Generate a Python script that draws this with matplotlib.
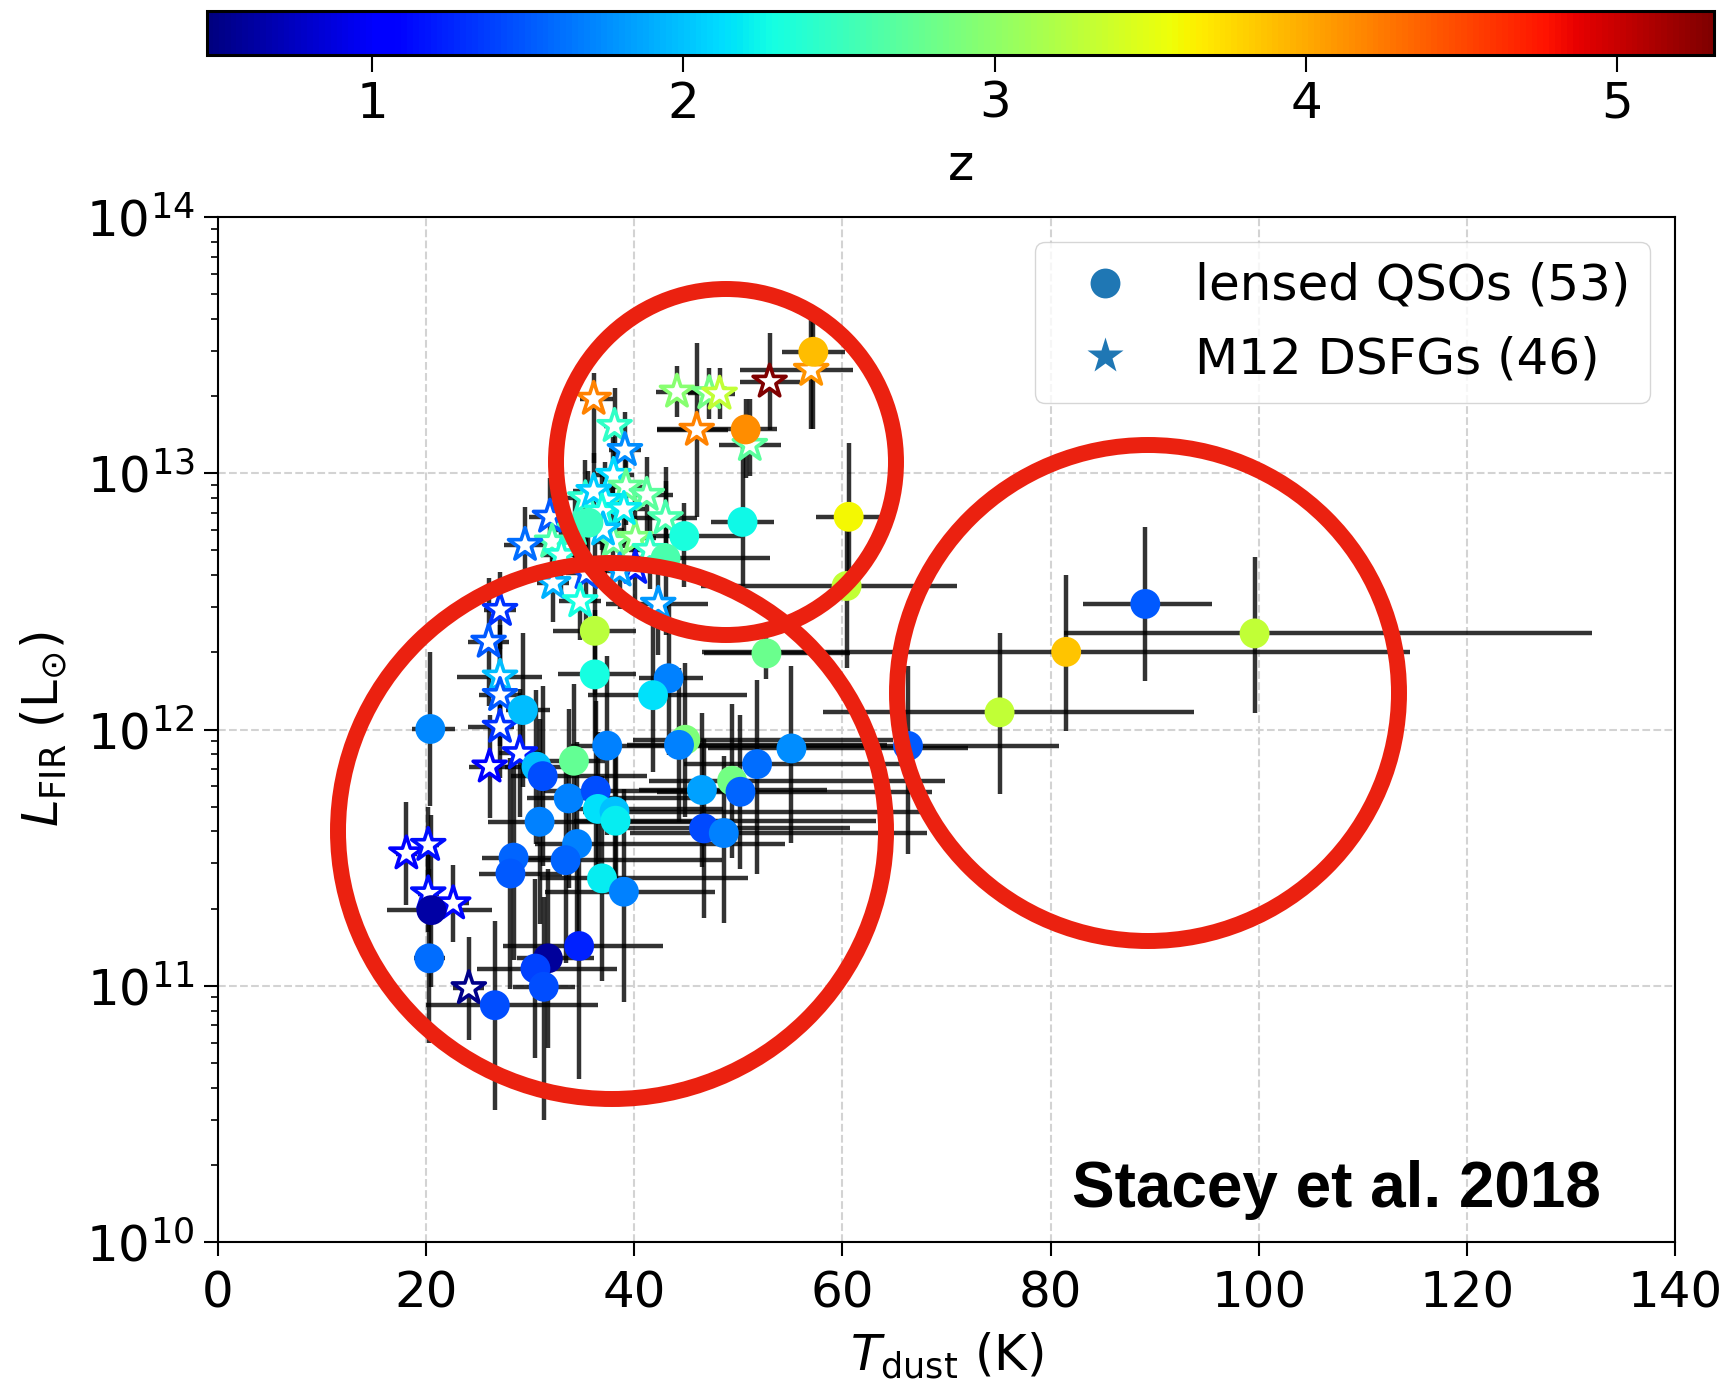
import numpy as np
import matplotlib
matplotlib.use('Agg')
import matplotlib.pyplot as plt
from matplotlib.colors import Normalize
from matplotlib.cm import ScalarMappable
from matplotlib.lines import Line2D
from matplotlib.patches import Ellipse

# lensed QSOs: T_dust [K], log L_FIR, z, T errors (lo, hi), log L errors (lo, hi) [dex]
qso_T = [89.1, 99.6, 81.5, 75.1, 66.3, 52.7, 60.4, 60.6, 55.1, 51.8,
         49.4, 50.2, 46.5, 46.7, 48.6, 36.2, 36.2, 43.3, 41.8, 20.4,
         29.3, 37.4, 34.2, 44.9, 44.3, 30.6, 31.2, 33.7, 36.3, 36.5,
         38.1, 38.2, 30.9, 34.5, 33.4, 28.4, 28.1, 36.9, 39.0, 20.5,
         20.3, 26.6, 31.7, 30.5, 31.3, 34.7, 57.2, 50.7, 50.4, 44.8,
         35.6, 43.0]
qso_logL = [12.49, 12.375, 12.303, 12.067, 11.936, 12.297, 12.56, 12.83, 11.926, 11.865,
            11.80, 11.757, 11.764, 11.614, 11.596, 12.385, 12.215, 12.20, 12.134, 12.002,
            12.076, 11.937, 11.878, 11.96, 11.94, 11.855, 11.818, 11.731, 11.761, 11.69,
            11.68, 11.644, 11.64, 11.553, 11.49, 11.50, 11.438, 11.419, 11.367, 11.295,
            11.107, 10.924, 11.107, 11.067, 10.996, 11.155, 13.474, 13.171, 12.81, 12.755,
            12.807, 12.668]
qso_z = [1.50, 3.30, 3.86, 3.30, 1.50, 2.78, 3.30, 3.60, 1.74, 1.60,
         2.85, 1.56, 1.85, 1.42, 1.68, 3.25, 2.30, 1.68, 2.15, 1.72,
         1.98, 1.68, 2.75, 2.90, 1.68, 1.98, 1.44, 1.68, 1.44, 2.15,
         2.00, 2.20, 1.68, 1.68, 1.56, 1.56, 1.50, 2.20, 1.68, 0.64,
         1.60, 1.44, 0.60, 1.38, 1.44, 1.23, 3.90, 4.15, 2.25, 2.32,
         2.50, 2.60]
qso_Tlo = [6.0, 18.3, 35.0, 17.0, 20.0, 6.0, 14.0, 3.1, 8.0, 7.0,
           8.0, 8.0, 6.0, 8.0, 9.0, 4.0, 3.5, 2.8, 6.2, 1.8,
           1.6, 3.5, 3.0, 5.0, 5.0, 3.0, 3.0, 4.0, 5.0, 3.0,
           3.0, 4.0, 5.0, 4.0, 5.0, 3.0, 3.0, 6.0, 7.6, 4.3,
           1.5, 6.6, 3.0, 5.6, 3.0, 7.3, 3.0, 8.5, 3.0, 6.2,
           3.0, 7.0]
qso_Thi = [6.4, 32.4, 33.0, 18.7, 14.5, 8.0, 10.6, 3.1, 17.0, 13.7,
           20.5, 18.4, 12.0, 14.0, 19.5, 4.0, 4.0, 3.3, 9.0, 2.4,
           2.6, 9.0, 3.0, 20.0, 20.0, 3.0, 10.0, 12.0, 15.0, 12.0,
           30.0, 25.0, 15.0, 20.0, 15.0, 6.0, 5.0, 14.0, 8.8, 5.8,
           1.5, 9.9, 4.4, 7.8, 3.0, 8.1, 3.0, 3.0, 3.0, 5.5,
           3.0, 10.0]
qso_dlo = [0.30, 0.31, 0.31, 0.32, 0.42, 0.10, 0.32, 0.27, 0.37, 0.43,
           0.30, 0.30, 0.30, 0.35, 0.35, 0.25, 0.30, 0.30, 0.30, 0.30,
           0.30, 0.35, 0.30, 0.30, 0.30, 0.30, 0.35, 0.35, 0.35, 0.30,
           0.30, 0.30, 0.40, 0.40, 0.40, 0.40, 0.45, 0.40, 0.43, 0.30,
           0.33, 0.41, 0.35, 0.35, 0.52, 0.52, 0.30, 0.19, 0.25, 0.20,
           0.20, 0.30]
qso_dhi = [0.30, 0.30, 0.30, 0.31, 0.31, 0.10, 0.27, 0.29, 0.32, 0.33,
           0.30, 0.30, 0.30, 0.35, 0.30, 0.35, 0.25, 0.30, 0.30, 0.30,
           0.30, 0.35, 0.30, 0.30, 0.30, 0.30, 0.35, 0.35, 0.35, 0.30,
           0.30, 0.30, 0.40, 0.40, 0.40, 0.40, 0.45, 0.40, 0.40, 0.37,
           0.35, 0.33, 0.35, 0.35, 0.35, 0.40, 0.13, 0.12, 0.35, 0.13,
           0.20, 0.30]

# M12 DSFGs
dsfg_T = [36.1, 38.1, 39.1, 44.1, 47.2, 48.2, 53.0, 57.0, 46.0, 51.1,
          38.0, 39.2, 41.2, 35.3, 37.2, 31.9, 43.0, 32.1, 38.0, 40.1,
          40.1, 32.2, 35.4, 42.3, 27.1, 26.0, 27.1, 27.1, 27.1, 29.0,
          26.1, 18.1, 20.2, 20.2, 22.6, 24.1, 36.1, 36.9, 34.3, 39.0,
          37.0, 41.5, 33.0, 38.6, 29.5, 34.8]
dsfg_logL = [13.29, 13.184, 13.09, 13.318, 13.312, 13.31, 13.357, 13.403, 13.169, 13.11,
             12.993, 12.947, 12.915, 12.902, 12.895, 12.83, 12.824, 12.733, 12.733, 12.747,
             12.63, 12.571, 12.61, 12.49, 12.466, 12.342, 12.206, 12.134, 12.01, 11.907,
             11.855, 11.516, 11.549, 11.36, 11.321, 10.99, 12.93, 12.85, 12.78, 12.86,
             12.78, 12.70, 12.68, 12.62, 12.72, 12.50]
dsfg_z = [4.20, 2.45, 1.74, 2.95, 2.85, 3.30, 5.30, 4.10, 4.20, 2.70,
          2.10, 2.75, 2.70, 2.40, 2.15, 1.50, 2.60, 2.60, 2.75, 2.90,
          1.20, 1.92, 1.44, 1.80, 1.32, 1.50, 1.98, 1.50, 1.32, 1.20,
          1.05, 1.05, 1.15, 1.15, 1.10, 0.52, 2.05, 2.30, 2.50, 2.20,
          2.00, 2.45, 2.35, 1.85, 1.60, 2.30]
dsfg_Tlo = [1.3, 1.0, 1.5, 2.0, 2.0, 1.5, 2.8, 6.8, 3.8, 3.0,
            2.0, 2.0, 2.5, 2.0, 2.0, 2.0, 3.0, 2.0, 2.0, 2.0,
            2.0, 1.5, 2.0, 5.0, 1.5, 2.0, 4.1, 2.0, 3.1, 2.0,
            2.0, 1.0, 1.0, 1.0, 1.5, 1.5, 2.0, 2.0, 2.0, 2.0,
            2.0, 2.0, 2.0, 2.0, 2.0, 2.0]
dsfg_Thi = [1.9, 1.0, 1.5, 2.0, 2.0, 1.5, 2.9, 4.0, 3.0, 3.0,
            2.0, 2.0, 2.5, 2.0, 2.0, 2.0, 3.0, 2.0, 2.0, 2.0,
            2.0, 1.5, 2.0, 4.8, 1.5, 2.0, 4.0, 2.0, 1.3, 2.0,
            2.0, 1.0, 1.0, 1.0, 1.5, 1.5, 2.0, 2.0, 2.0, 2.0,
            2.0, 2.0, 2.0, 2.0, 2.0, 2.0]
dsfg_dlo = [0.25, 0.15, 0.15, 0.10, 0.10, 0.10, 0.19, 0.23, 0.34, 0.12,
            0.15, 0.15, 0.15, 0.15, 0.15, 0.15, 0.20, 0.15, 0.15, 0.15,
            0.15, 0.15, 0.20, 0.20, 0.15, 0.25, 0.20, 0.20, 0.20, 0.25,
            0.20, 0.20, 0.15, 0.15, 0.15, 0.20, 0.15, 0.15, 0.15, 0.15,
            0.15, 0.15, 0.15, 0.15, 0.15, 0.15]
dsfg_dhi = [0.10, 0.15, 0.15, 0.10, 0.10, 0.10, 0.19, 0.20, 0.34, 0.18,
            0.15, 0.15, 0.15, 0.15, 0.15, 0.15, 0.20, 0.15, 0.15, 0.15,
            0.15, 0.10, 0.20, 0.20, 0.15, 0.25, 0.20, 0.20, 0.20, 0.25,
            0.20, 0.20, 0.15, 0.15, 0.15, 0.20, 0.15, 0.15, 0.15, 0.15,
            0.15, 0.15, 0.15, 0.15, 0.15, 0.15]

z_min, z_max = 0.47, 5.31


def lin_err(logL, dlo, dhi):
    logL, dlo, dhi = np.asarray(logL), np.asarray(dlo), np.asarray(dhi)
    L = 10**logL
    return L, np.vstack([L - 10**(logL - dlo), 10**(logL + dhi) - L])


W, H = 1726, 1382
fig = plt.figure(figsize=(W / 100, H / 100), dpi=100)
ax = fig.add_axes([218 / W, 1 - 1242 / H, (1675 - 218) / W, (1242 - 217) / H])
cax = fig.add_axes([207 / W, 1 - 55 / H, (1714 - 207) / W, 44 / H])

norm = Normalize(vmin=z_min, vmax=z_max)
cmap = plt.get_cmap('jet')

ax.grid(True, which='major', ls='--', color='#d3d3d3', lw=1.5, zorder=0)
ax.set_axisbelow(True)

# error bars first, markers on top
L_d, yerr_d = lin_err(dsfg_logL, dsfg_dlo, dsfg_dhi)
ax.errorbar(dsfg_T, L_d, xerr=[dsfg_Tlo, dsfg_Thi], yerr=yerr_d, fmt='none',
            ecolor='k', elinewidth=3.2, alpha=0.8, capsize=0, zorder=1)
L_q, yerr_q = lin_err(qso_logL, qso_dlo, qso_dhi)
ax.errorbar(qso_T, L_q, xerr=[qso_Tlo, qso_Thi], yerr=yerr_q, fmt='none',
            ecolor='k', elinewidth=3.2, alpha=0.8, capsize=0, zorder=1)

ax.scatter(dsfg_T, L_d, marker='*', s=25**2, facecolors='white',
           edgecolors=cmap(norm(np.array(dsfg_z))), linewidths=2.6, zorder=2)
ax.scatter(qso_T, L_q, marker='o', s=21.5**2, c=qso_z, cmap=cmap, norm=norm,
           edgecolors='none', zorder=3)

ax.set_yscale('log')
ax.set_xlim(0, 140)
ax.set_ylim(1e10, 1e14)
ax.set_xlabel(r'$T_{\rm dust}$ (K)', fontsize=36, labelpad=9)
ax.set_ylabel(r'$L_{\rm FIR}$ (L$_{\odot}$)', fontsize=36, labelpad=12)
ax.tick_params(which='major', length=10, width=1.5, labelsize=36, pad=7)
ax.tick_params(axis='x', which='major', pad=10)
ax.tick_params(which='minor', length=5, width=1.2)
for s in ax.spines.values():
    s.set_linewidth(1.5)

handles = [Line2D([], [], ls='none', marker='o', ms=21.5, color='#1f77b4', mec='none'),
           Line2D([], [], ls='none', marker='*', ms=27, color='#1f77b4', mec='none')]
ax.legend(handles, ['lensed QSOs (53)', 'M12 DSFGs (46)'], loc='upper right',
          fontsize=36, framealpha=0.8)

sm = ScalarMappable(norm=norm, cmap=cmap)
cb = fig.colorbar(sm, cax=cax, orientation='horizontal')
cb.set_ticks([1, 2, 3, 4, 5])
cb.ax.tick_params(labelsize=36, length=12, width=1.5, pad=6)
cb.outline.set_linewidth(2.2)
cb.set_label('z', fontsize=36, labelpad=10)

# red rings drawn over the figure
rings = [(726, 462, 340, 346), (612, 831, 548, 536), (1148, 693, 502, 496)]
for cx, cy, w, h in rings:
    fig.add_artist(Ellipse((cx / W, 1 - cy / H), w / W, h / H, transform=fig.transFigure,
                           fill=False, ec='#eb2110', lw=11.5, zorder=10))

fig.text(1072 / W, 1 - 1207 / H, 'Stacey et al. 2018', fontsize=46, fontweight='bold',
         family='Liberation Sans', ha='left', va='baseline')

fig.savefig('out.png', dpi=100)
